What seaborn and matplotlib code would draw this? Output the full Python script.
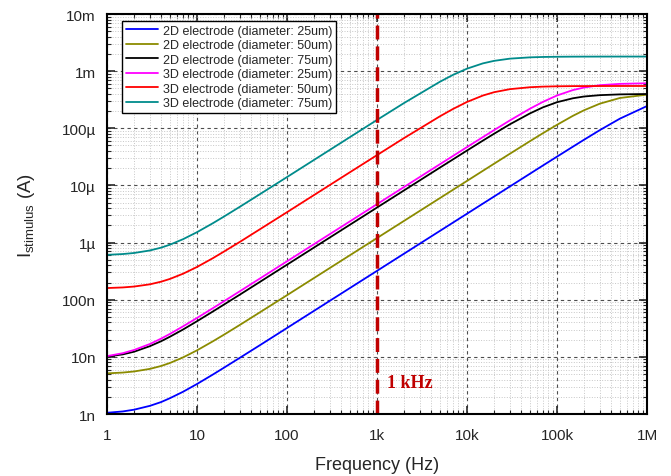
import numpy as np
import pandas as pd
import matplotlib
matplotlib.use("Agg")
import matplotlib.pyplot as plt
import matplotlib.ticker as mticker
import seaborn as sns

# frecuencias (Hz)
freq = [1, 1.5, 2, 3, 4, 5, 7, 10, 15, 20, 30, 50, 100, 200, 500,
        1e3, 2e3, 5e3, 7e3, 1e4, 1.5e4, 2e4, 3e4, 5e4, 7e4, 1e5, 1.5e5, 2e5, 3e5, 5e5, 1e6]

# corrientes: tramo 1-500 Hz en nA, tramo 1k-1M en uA
i_2d_25_n = [1.05, 1.109, 1.19, 1.39, 1.62, 1.89, 2.45, 3.35, 4.90, 6.48, 9.65, 16.0, 32, 64, 160]
i_2d_25_u = [0.32, 0.64, 1.6, 2.24, 3.2, 4.8, 6.4, 9.6, 16.0, 22.4, 31.9, 47.6, 63.1, 93.1, 147.5, 245]
i_2d_50_n = [5.14, 5.31, 5.55, 6.16, 6.93, 7.81, 9.78, 13.0, 18.7, 24.5, 36.3, 60.2, 120, 240, 600]
i_2d_50_u = [1.2, 2.4, 6.0, 8.4, 12.0, 18.0, 24.0, 35.9, 59.4, 82.3, 115, 165, 207, 270, 339, 388]
i_2d_75_n = [10.1, 11.06, 12.3, 15.4, 18.8, 22.5, 30.1, 42.0, 62.2, 82.5, 123, 205, 410, 820, 2050]
i_2d_75_u = [4.1, 8.2, 20.5, 28.6, 40.8, 60.8, 80.3, 117.6, 182, 233, 286, 335, 360, 380, 392, 398]
i_3d_25_n = [10.3, 11.6, 13.2, 16.8, 20.9, 25.2, 34.2, 47.9, 71.1, 94.4, 141, 235, 470, 940, 2350]
i_3d_25_u = [4.7, 9.4, 23.5, 32.85, 46.9, 70.05, 92.9, 137.5, 220, 290.6, 375, 466, 517, 568, 599, 614]
i_3d_50_n = [160, 164, 170, 186, 207, 231, 285, 374, 533, 698, 1030, 1710, 3400, 6800, 17000]
i_3d_50_u = [33.9, 67.5, 162, 218, 289, 374, 428, 484, 523, 536, 543, 547, 548, 549, 550, 550]
i_3d_75_n = [610, 630, 657, 728, 816, 918, 1146, 1520, 2180, 2860, 4240, 7030, 14000, 28000, 70000]
i_3d_75_u = [140, 277, 652, 861, 1105, 1367, 1514, 1655, 1743, 1771, 1785, 1794, 1796, 1798, 1800, 1800]


def to_amp(n_part, u_part):
    return [v * 1e-9 for v in n_part] + [v * 1e-6 for v in u_part]


labels = ["2D electrode (diameter: 25um)", "2D electrode (diameter: 50um)",
          "2D electrode (diameter: 75um)", "3D electrode (diameter: 25um)",
          "3D electrode (diameter: 50um)", "3D electrode (diameter: 75um)"]
series = [to_amp(i_2d_25_n, i_2d_25_u), to_amp(i_2d_50_n, i_2d_50_u),
          to_amp(i_2d_75_n, i_2d_75_u), to_amp(i_3d_25_n, i_3d_25_u),
          to_amp(i_3d_50_n, i_3d_50_u), to_amp(i_3d_75_n, i_3d_75_u)]
colors = ["#0000ff", "#8b8b00", "#000000", "#ff00ff", "#ff0000", "#008b8b"]

df = pd.concat([pd.DataFrame({"freq": freq, "current": s, "electrode": lab})
                for lab, s in zip(labels, series)], ignore_index=True)

sns.set_style("ticks")
plt.rcParams["font.family"] = ["Liberation Sans", "DejaVu Sans"]
plt.rcParams["mathtext.default"] = "regular"

fig = plt.figure(figsize=(6.71, 4.77), dpi=100)
ax = fig.add_axes([107 / 671, 1 - 415 / 477, 540 / 671, 400 / 477])

sns.lineplot(data=df, x="freq", y="current", hue="electrode", hue_order=labels,
             palette=colors, linewidth=1.3, ax=ax, legend=True)

ax.set_xscale("log")
ax.set_yscale("log")
ax.set_xlim(1, 1e6)
ax.set_ylim(1e-9, 1e-2)

xt = [1, 10, 100, 1e3, 1e4, 1e5, 1e6]
xl = ["1", "10", "100", "1k", "10k", "100k", "1M"]
yt = [1e-9, 1e-8, 1e-7, 1e-6, 1e-5, 1e-4, 1e-3, 1e-2]
yl = ["1n", "10n", "100n", "1µ", "10µ", "100µ", "1m", "10m"]
ax.set_xticks(xt)
ax.set_xticklabels(xl)
ax.set_yticks(yt)
ax.set_yticklabels(yl)
ax.xaxis.set_minor_locator(mticker.LogLocator(base=10, subs=np.arange(2, 10), numticks=20))
ax.yaxis.set_minor_locator(mticker.LogLocator(base=10, subs=np.arange(2, 10), numticks=20))
ax.xaxis.set_minor_formatter(mticker.NullFormatter())
ax.yaxis.set_minor_formatter(mticker.NullFormatter())

ax.tick_params(which="both", direction="in", top=True, right=True, labelsize=11)
ax.tick_params(which="major", length=6, width=1.2)
ax.tick_params(which="minor", length=3, width=0.8)
ax.tick_params(axis="x", pad=10)
ax.tick_params(axis="y", pad=8)

ax.grid(which="major", ls=(0, (3, 3)), color="0.3", lw=0.8)
ax.grid(which="minor", ls=":", color="0.78", lw=0.7)
ax.set_axisbelow(True)
for sp in ax.spines.values():
    sp.set_linewidth(1.5)
    sp.set_color("black")

ax.axvline(1e3, color="#c00000", ls=(0, (4, 2)), lw=2.5)
ax.text(1.3e3, 3.5e-9, "1 kHz", color="#c00000", fontsize=13, fontweight="bold",
        family=["Liberation Serif", "DejaVu Serif"], va="center", ha="left")

ax.set_xlabel("Frequency (Hz)", fontsize=13, labelpad=10)
ax.set_ylabel(r"I$_{stimulus}$ (A)", fontsize=13.5, labelpad=18)

leg = ax.legend(loc="upper left", bbox_to_anchor=(0.028, 0.983), borderaxespad=0,
                fontsize=9, frameon=True, fancybox=False, edgecolor="black",
                handlelength=2.6, handletextpad=0.4, labelspacing=0.2,
                borderpad=0.3, title=None)
leg.get_frame().set_linewidth(1.0)
leg.get_frame().set_alpha(1)

plt.savefig("out.png", dpi=100)
plt.close()
